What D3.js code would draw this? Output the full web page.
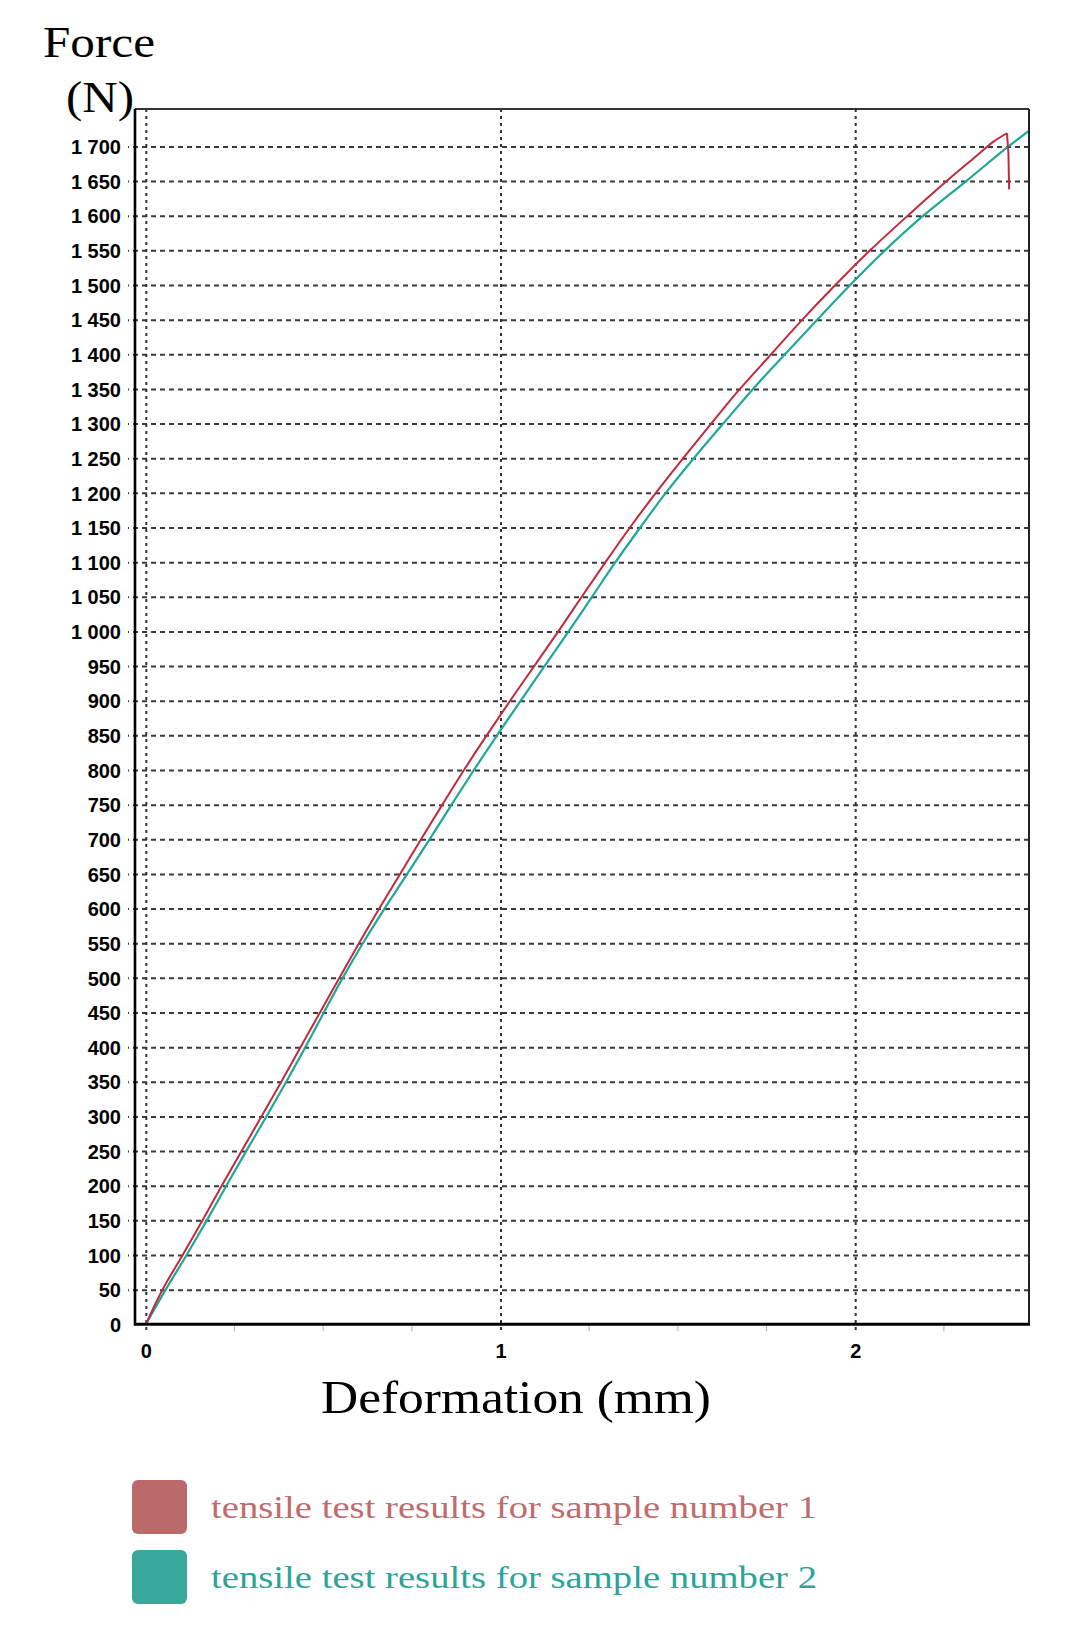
<!DOCTYPE html>
<html><head><meta charset="utf-8">
<script src="https://cdn.jsdelivr.net/npm/d3@7/dist/d3.min.js"></script>
<style>body{margin:0;background:#fff}svg{display:block}</style>
</head><body>
<svg id="chart" width="1083" height="1633"></svg>
<script>
// ---- data ----
const yTicks = [0,50,100,150,200,250,300,350,400,450,500,550,600,650,700,750,800,850,900,950,1000,1050,1100,1150,1200,1250,1300,1350,1400,1450,1500,1550,1600,1650,1700];
const yTickLabels = ["0","50","100","150","200","250","300","350","400","450","500","550","600","650","700","750","800","850","900","950","1 000","1 050","1 100","1 150","1 200","1 250","1 300","1 350","1 400","1 450","1 500","1 550","1 600","1 650","1 700"];
const xTicks = [0,1,2];
const xTickLabels = ["0","1","2"];
const xMinorTicks = [0.25,0.5,0.75,1.25,1.5,1.75,2.25];

const sample1Deformation = [0,0.047,0.104,0.160,0.214,0.270,0.326,0.382,0.436,0.491,0.546,0.601,0.658,0.717,0.776,0.836,0.897,0.961,1.027,1.095,1.163,1.229,1.296,1.365,1.438,1.515,1.594,1.675,1.763,1.851,1.944,2.042,2.148,2.258,2.334,2.390,2.428,2.432,2.434];
const sample1Force = [0,50,100,150,200,250,300,350,400,450,500,550,600,650,700,750,800,850,900,950,1000,1050,1100,1150,1200,1250,1300,1350,1400,1450,1500,1550,1600,1650,1683,1707,1719,1690,1638];

const sample2Deformation = [0,0.056,0.115,0.172,0.227,0.283,0.340,0.396,0.450,0.502,0.555,0.612,0.673,0.737,0.800,0.862,0.925,0.990,1.057,1.124,1.192,1.258,1.324,1.394,1.466,1.545,1.628,1.712,1.802,1.893,1.986,2.084,2.192,2.313,2.432,2.494];
const sample2Force = [0,50,100,150,200,250,300,350,400,450,500,550,600,650,700,750,800,850,900,950,1000,1050,1100,1150,1200,1250,1300,1350,1400,1450,1500,1550,1600,1650,1700,1724];

const seriesNames = ["tensile test results for sample number 1","tensile test results for sample number 2"];
const seriesColors = ["#c22a3c","#1fa898"];
const swatchColors = ["#bb6a6a","#38a89b"];
const legendTextColors = ["#c06c6c","#2aa596"];

// ---- layout ----
const L = 135, R = 1029, T = 109, B = 1324.3;
const svg = d3.select("#chart");
const x = d3.scaleLinear().domain([-0.0305, 2.49]).range([L, R]);
const y = d3.scaleLinear().domain([0, 1754]).range([B, T]);

svg.append("defs").append("clipPath").attr("id","plotclip")
  .append("rect").attr("x",L).attr("y",T).attr("width",R-L).attr("height",B-T);

// horizontal gridlines + y labels via axis
const yAxis = d3.axisLeft(y).tickValues(yTicks)
  .tickFormat((d,i) => yTickLabels[i]).tickSize(-(R - 128)).tickPadding(0);
const gy = svg.append("g").attr("transform", `translate(${R},0)`).call(yAxis);
gy.select(".domain").remove();
gy.selectAll(".tick line")
  .attr("stroke","#3a3a3a").attr("stroke-width",2).attr("stroke-dasharray","5,4")
  .attr("x1", 0).attr("x2", -(R - 128))
  .attr("opacity", d => d === 0 ? 0 : 1);
gy.selectAll(".tick text")
  .attr("x", -(R - 121)).attr("dy","0.36em")
  .attr("text-anchor","end")
  .style("font-family","'Liberation Sans', Arial, sans-serif")
  .style("font-weight","bold").style("font-size","20px").attr("fill","#000");

// vertical gridlines + x labels via axis
const xAxis = d3.axisBottom(x).tickValues(xTicks)
  .tickFormat((d,i) => xTickLabels[i]).tickSize(0).tickPadding(0);
const gx = svg.append("g").attr("transform", `translate(0,${B})`).call(xAxis);
gx.select(".domain").remove();
gx.selectAll(".tick line")
  .attr("y1", T - B).attr("y2", 8)
  .attr("stroke","#333").attr("stroke-width",2).attr("stroke-dasharray","3,4");
gx.selectAll(".tick text")
  .attr("y", 34).attr("dy", 0)
  .style("font-family","'Liberation Sans', Arial, sans-serif")
  .style("font-weight","bold").style("font-size","20px").attr("fill","#000");

// minor ticks below x axis
svg.append("g").selectAll("line").data(xMinorTicks).join("line")
  .attr("x1", d => x(d)).attr("x2", d => x(d))
  .attr("y1", B + 1).attr("y2", B + 7)
  .attr("stroke","#bbb").attr("stroke-width",1.2);

// curves
const smooth = d3.line().x(d => x(d[0])).y(d => y(d[1])).curve(d3.curveCatmullRom.alpha(0.5));
const straight = d3.line().x(d => x(d[0])).y(d => y(d[1]));
const s1 = sample1Deformation.map((d,i) => [d, sample1Force[i]]);
const s2 = sample2Deformation.map((d,i) => [d, sample2Force[i]]);
const peak = sample1Force.indexOf(d3.max(sample1Force));
const gc = svg.append("g").attr("clip-path","url(#plotclip)");
gc.append("path").datum(s2).attr("d", smooth).attr("fill","none")
  .attr("stroke", seriesColors[1]).attr("stroke-width",2.2).attr("stroke-linejoin","round");
gc.append("path").datum(s1.slice(0, peak + 1)).attr("d", smooth).attr("fill","none")
  .attr("stroke", seriesColors[0]).attr("stroke-width",2).attr("stroke-linejoin","round");
gc.append("path").datum(s1.slice(peak)).attr("d", straight).attr("fill","none")
  .attr("stroke", seriesColors[0]).attr("stroke-width",2).attr("stroke-linejoin","round");

// frame
svg.append("line").attr("x1",L).attr("x2",R).attr("y1",T).attr("y2",T).attr("stroke","#333").attr("stroke-width",2);
svg.append("line").attr("x1",R).attr("x2",R).attr("y1",T).attr("y2",B).attr("stroke","#222").attr("stroke-width",2);
svg.append("line").attr("x1",L).attr("x2",L).attr("y1",T).attr("y2",B+1.5).attr("stroke","#000").attr("stroke-width",2.6);
svg.append("line").attr("x1",L).attr("x2",R+1).attr("y1",B).attr("y2",B).attr("stroke","#000").attr("stroke-width",3);

// titles
const serif = "'Liberation Serif', 'Palatino Linotype', 'Book Antiqua', Palatino, serif";
svg.append("text").attr("x",43).attr("y",57).text("Force")
  .style("font-family",serif).style("font-size","45px").attr("fill","#000")
  .attr("textLength",112).attr("lengthAdjust","spacingAndGlyphs");
svg.append("text").attr("x",66).attr("y",112).text("(N)")
  .style("font-family",serif).style("font-size","45px").attr("fill","#000")
  .attr("textLength",68).attr("lengthAdjust","spacingAndGlyphs");
svg.append("text").attr("x",321).attr("y",1413).text("Deformation (mm)")
  .style("font-family",serif).style("font-size","47px").attr("fill","#000")
  .attr("textLength",390).attr("lengthAdjust","spacingAndGlyphs");

// legend
const lg = svg.append("g");
const rowsY = [1480, 1550];
lg.selectAll("rect").data(seriesNames).join("rect")
  .attr("x",132).attr("y",(d,i)=>rowsY[i]).attr("width",55).attr("height",54)
  .attr("rx",6).attr("fill",(d,i)=>swatchColors[i]);
lg.selectAll("text").data(seriesNames).join("text")
  .attr("x",211).attr("y",(d,i)=>rowsY[i]+38).text(d=>d)
  .style("font-family",serif).style("font-size","32px")
  .attr("fill",(d,i)=>legendTextColors[i])
  .attr("textLength",606).attr("lengthAdjust","spacingAndGlyphs");
</script>
</body></html>
